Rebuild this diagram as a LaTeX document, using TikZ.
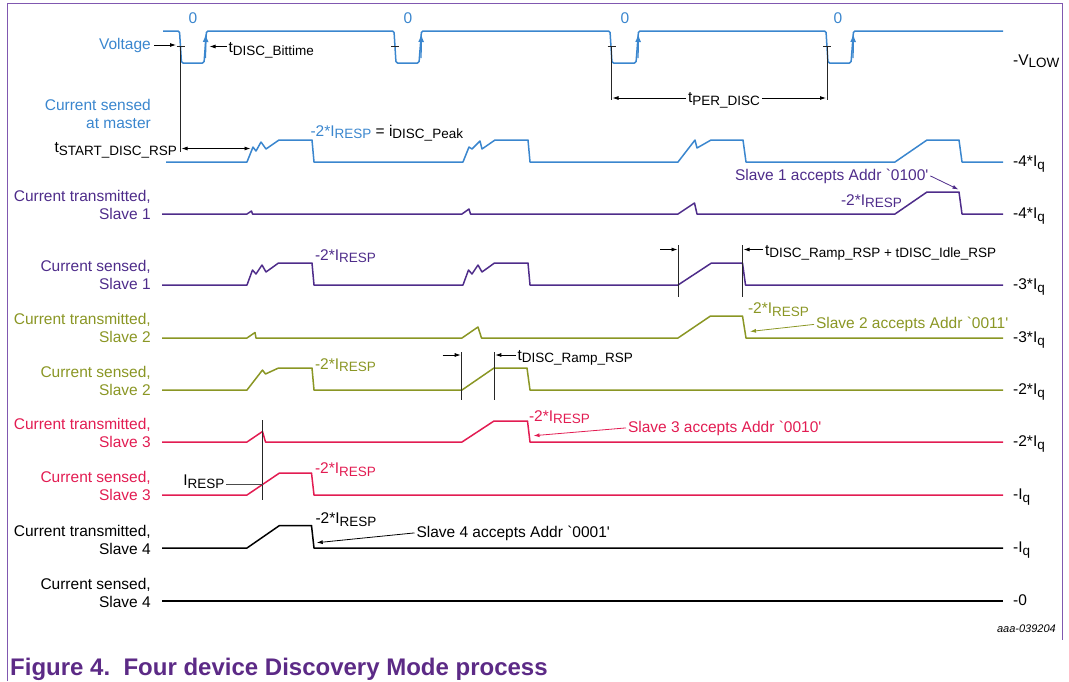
\documentclass[tikz,border=0pt]{standalone}
\usepackage{fontspec}
\setmainfont{Liberation Sans}
\usetikzlibrary{arrows.meta}

\definecolor{vblue}{RGB}{58,134,206}
\definecolor{slaveone}{RGB}{78,44,138}
\definecolor{slavetwo}{RGB}{138,150,36}
\definecolor{slavethree}{RGB}{226,28,82}
\definecolor{framepurple}{RGB}{128,88,176}
\definecolor{cappurple}{RGB}{92,42,134}

\newcommand\lbfont{\fontsize{15.5}{18}\selectfont}
\newcommand\lowidx[1]{\raisebox{-2.8pt}{\fontsize{13.5}{14}\selectfont #1}}
\newcommand\iresp{-2*I\lowidx{RESP}}
\newcommand\addr[1]{\textasciigrave#1\textquotesingle}

\begin{document}
\begin{tikzpicture}[x=1pt,y=-1pt,
  trace/.style={line width=1.5pt,line join=round},
  guide/.style={black!85,line width=0.8pt},
  dimarrow/.style={black,line width=0.8pt,-{Latex[length=6pt,width=4pt]}},
  accarrow/.style={line width=0.8pt,-{Latex[length=6pt,width=4pt]}},
  sig/.style={anchor=east,align=right,inner sep=0pt,font=\lbfont},
  lvl/.style={anchor=base west,inner sep=0pt,font=\lbfont},
  note/.style={anchor=base west,inner sep=0pt,outer sep=2pt,font=\lbfont}]

  \useasboundingbox (0,0) rectangle (1069,681);
  % frame
  \draw[framepurple,line width=1pt] (7.5,681) -- (7.5,3) -- (1062.5,3) -- (1062.5,640);

  % signal names
  \node[sig,vblue] (lvolt) at (151,45) {Voltage};
  \node[sig,vblue] (lmaster) at (151,113.5) {Current sensed\\at master};
  \node[sig,slaveone] (ltxone) at (151,205) {Current transmitted,\\Slave 1};
  \node[sig,slaveone] (lrxone) at (151,275) {Current sensed,\\Slave 1};
  \node[sig,slavetwo] (ltxtwo) at (151,328) {Current transmitted,\\Slave 2};
  \node[sig,slavetwo] (lrxtwo) at (151,381) {Current sensed,\\Slave 2};
  \node[sig,slavethree] (ltxthree) at (151,433) {Current transmitted,\\Slave 3};
  \node[sig,slavethree] (lrxthree) at (151,486) {Current sensed,\\Slave 3};
  \node[sig] (ltxfour) at (151,540) {Current transmitted,\\Slave 4};
  \node[sig] (lrxfour) at (151,593) {Current sensed,\\Slave 4};

  % levels
  \foreach \yb/\lab [count=\i] in {65/{-V\lowidx{LOW}},166.5/{-4*I\lowidx{q}},218.5/{-4*I\lowidx{q}},
      289.5/{-3*I\lowidx{q}},342.5/{-3*I\lowidx{q}},394.5/{-2*I\lowidx{q}},446.5/{-2*I\lowidx{q}},
      499.5/{-I\lowidx{q}},552.5/{-I\lowidx{q}},605.5/{-0}}
    \node[lvl] (level\i) at (1013,\yb) {\lab};

  % voltage
  \draw[trace,vblue,rounded corners=1.5pt] (163,31) -- (179.5,31) -- (181.5,63) -- (204,63) -- (206.5,31)
    -- (394,31) -- (396,63) -- (419,63) -- (421.5,31) -- (610,31) -- (612,63) -- (636,63) -- (638.5,31)
    -- (826,31) -- (828,63) -- (851,63) -- (853.5,31) -- (1003,31);
  \foreach \r in {205.5,421,638,853}
    \draw[vblue,line width=1.4pt,-{Latex[length=8pt,width=6pt]}] (\r,58) -- (\r+0.2,34);
  \foreach \z [count=\i] in {193,408,625,838}
    \node[vblue,font=\lbfont] (zero\i) at (\z,18) {0};
  \foreach \f in {180.5,395,611.5,827}
    \draw[guide] (\f-4,46) -- (\f+4,46);

  % master
  \draw[trace,vblue] (166,162) -- (247,162) -- (253,147) -- (256,151) -- (261,142) -- (266,149) -- (279,140)
    -- (312,140) -- (314,162) -- (463,162) -- (469,147) -- (472,149) -- (480,141) -- (482,149) -- (495,140)
    -- (528,140) -- (530,162) -- (678,162) -- (695,140) -- (697,148) -- (711,140) -- (743,140) -- (746,162)
    -- (895,162) -- (927,140) -- (959,140) -- (962,162) -- (1003,162);

  % slave 1
  \draw[trace,slaveone] (162,214) -- (247,214) -- (251.5,211) -- (252.5,214) -- (462,214) -- (469,209)
    -- (470.5,214) -- (678,214) -- (694.5,203) -- (697,214) -- (895,214) -- (927,192) -- (959,192)
    -- (962,214) -- (1003,214);
  \draw[trace,slaveone] (162,285) -- (247,285) -- (252.5,270) -- (256,274) -- (262,265) -- (266,272)
    -- (278.5,263) -- (312,263) -- (314,285) -- (463,285) -- (468.5,270) -- (472,274) -- (478,265)
    -- (482,272) -- (494.5,263) -- (528,263) -- (530,285) -- (678,285) -- (711.5,263) -- (742.5,263)
    -- (745.5,285) -- (1003,285);

  % slave 2
  \draw[trace,slavetwo] (162,338) -- (247,338) -- (255,332.5) -- (256,338) -- (462,338) -- (478,327)
    -- (481.5,338) -- (678,338) -- (710.5,316) -- (742.5,316) -- (746,338) -- (1003,338);
  \draw[trace,slavetwo] (162,390) -- (247,390) -- (262.5,370) -- (265.5,374) -- (278.5,368) -- (312,368)
    -- (314,390) -- (462,390) -- (494,368) -- (527,368) -- (530,390) -- (1003,390);

  % slave 3
  \draw[trace,slavethree] (162,442) -- (247,442) -- (262.5,431.5) -- (265.5,442) -- (462,442) -- (494,421)
    -- (527.5,421) -- (530,442) -- (1003,442);
  \draw[trace,slavethree] (162,495) -- (247,495) -- (279.5,473) -- (311.5,473) -- (314,495) -- (1003,495);

  % slave 4
  \draw[trace,black] (162,548) -- (247,548) -- (279.5,525.5) -- (311.5,525.5) -- (314,548) -- (1003,548);
  \draw[trace,black] (162,601) -- (1003,601);

  % timing marks
  \draw[guide] (180.5,46) -- (180.5,152);
  \draw[guide] (611.5,46) -- (611.5,100);
  \draw[guide] (827,46) -- (827,100);
  \draw[guide] (678.3,245) -- (678.3,297);
  \draw[guide] (742.5,245) -- (742.5,297);
  \draw[guide] (461.7,352) -- (461.7,400);
  \draw[guide] (494.3,352) -- (494.3,400);
  \draw[guide] (262.7,420) -- (262.7,500);

  \coordinate (vtick) at (176,45);
  \draw[dimarrow] ([xshift=3pt]lvolt.east) -- (vtick);

  \node[note] (lbit) at (226.5,52.5) {t\lowidx{DISC\_Bittime}};
  \coordinate (vrise) at (209.5,46.5);
  \draw[dimarrow] (lbit.west |- vrise) -- (vrise);

  \node[note,anchor=base east] (lstart) at (179,152.5) {t\lowidx{START\_DISC\_RSP}};
  \coordinate (gstart) at (181.5,148.5);
  \coordinate (mrise) at (250.5,148.5);
  \draw[dimarrow,{Latex[length=6pt,width=4pt]}-{Latex[length=6pt,width=4pt]}] (gstart) -- (mrise);

  \node[note] (lpeak) at (308.5,136) {\textcolor{vblue}{\iresp} = i\lowidx{DISC\_Peak}};

  \node[note] (lper) at (686,102.5) {t\lowidx{PER\_DISC}};
  \coordinate (pleft) at (612.5,98);
  \coordinate (pright) at (826,98);
  \draw[dimarrow] (lper.west |- pleft) -- (pleft);
  \draw[dimarrow] (lper.east |- pright) -- (pright);

  \node[note,slaveone] (acc1) at (733,180) {Slave 1 accepts Addr \addr{0100}};
  \coordinate (s1drop) at (958.5,189.5);
  \draw[accarrow,slaveone] (acc1.east) -- (s1drop);
  \node[note,slaveone] (r1t) at (839,205) {\iresp};
  \node[note,slaveone] (r1s) at (313,260) {\iresp};

  \node[note] (lidle) at (763,255) {t\lowidx{DISC\_Ramp\_RSP + tDISC\_Idle\_RSP}};
  \coordinate (ratail) at (660,249.5);
  \coordinate (ra) at (677.5,249.5);
  \coordinate (rb) at (743.5,249.5);
  \draw[dimarrow] (ratail) -- (ra);
  \draw[dimarrow] (lidle.west |- rb) -- (rb);

  \node[note,slavetwo] (r2t) at (746,313.5) {\iresp};
  \node[note,slavetwo] (acc2) at (814,328.5) {Slave 2 accepts Addr \addr{0011}};
  \coordinate (s2drop) at (750,331.5);
  \draw[accarrow,slavetwo] (acc2.west) -- (s2drop);
  \node[note,slavetwo] (r2s) at (313,369) {\iresp};

  \node[note] (lramp) at (515.5,360) {t\lowidx{DISC\_Ramp\_RSP}};
  \coordinate (rctail) at (442.7,355);
  \coordinate (rc) at (460.7,355);
  \coordinate (rd) at (495.3,355);
  \draw[dimarrow] (rctail) -- (rc);
  \draw[dimarrow] (lramp.west |- rd) -- (rd);

  \node[note,slavethree] (r3t) at (527,421) {\iresp};
  \node[note,slavethree] (acc3) at (626,432) {Slave 3 accepts Addr \addr{0010}};
  \coordinate (s3drop) at (533.5,435.7);
  \draw[accarrow,slavethree] (acc3.west) -- (s3drop);
  \node[note,slavethree] (r3s) at (313,473.5) {\iresp};

  \node[note] (lresp) at (181.3,485.5) {I\lowidx{RESP}};
  \coordinate (cross) at (262.7,484);
  \draw[black!70,line width=0.8pt] (lresp.east |- cross) -- (cross);

  \node[note] (r4t) at (313.5,523.5) {\iresp};
  \node[note] (acc4) at (414.5,537) {Slave 4 accepts Addr \addr{0001}};
  \coordinate (s4drop) at (316.7,542.7);
  \draw[accarrow,black] (acc4.west) -- (s4drop);

  % caption
  \node[anchor=base east,inner sep=0pt,font=\fontsize{11}{12}\selectfont\itshape] (figid) at (1056,632) {aaa-039204};
  \node[anchor=base west,inner sep=0pt,text=cappurple,font=\fontsize{24}{28}\selectfont\bfseries] (caption) at (10,675) {Figure 4.\ \ Four device Discovery Mode process};
\end{tikzpicture}
\end{document}
